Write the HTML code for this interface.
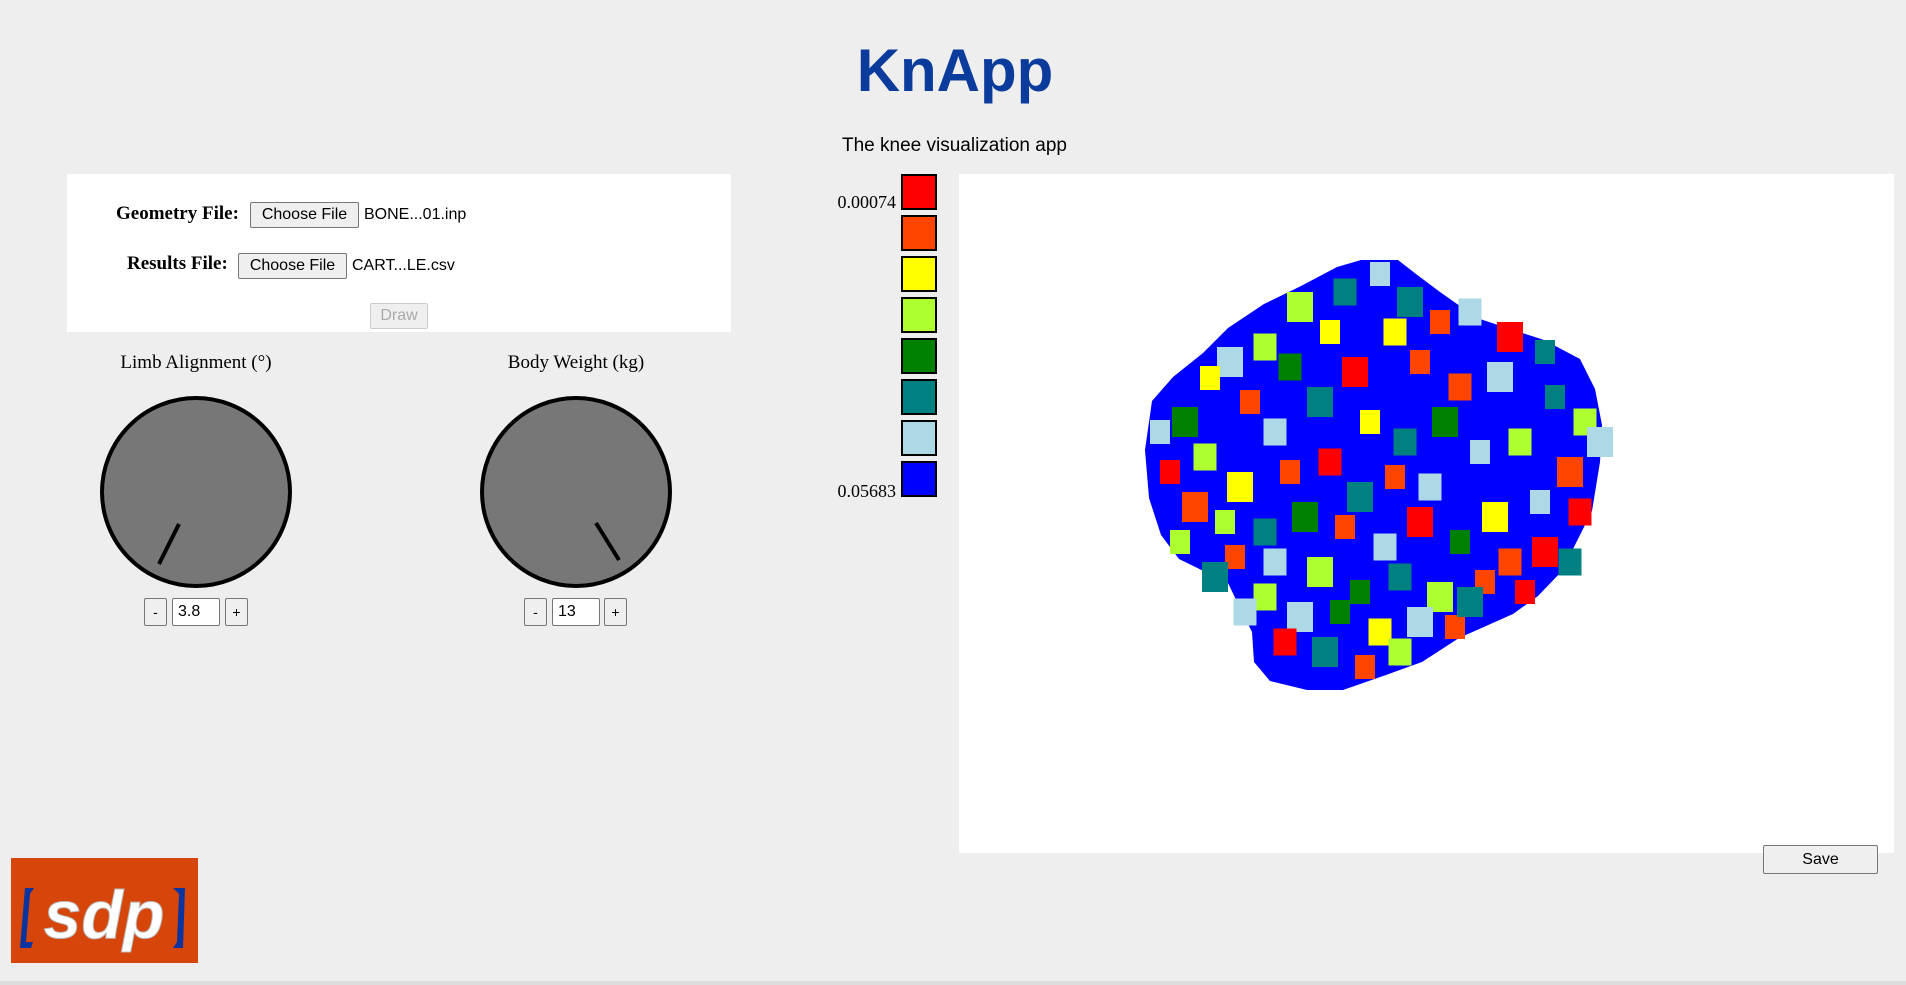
<!DOCTYPE html>
<html><head><meta charset="utf-8"><style>
*{box-sizing:border-box;margin:0;padding:0}
body{width:1906px;height:985px;background:#eeeeee;position:relative;overflow:hidden;font-family:"Liberation Sans",sans-serif}
.abs{position:absolute}
.btn{position:absolute;background:#efefef;border:1px solid #767676;border-radius:2px;font-family:"Liberation Sans",sans-serif;font-size:16px;color:#000;display:flex;align-items:center;justify-content:center}
.lbl{position:absolute;font-family:"Liberation Serif",serif;font-weight:bold;font-size:19px;color:#000}
.ftxt{position:absolute;font-size:16px;color:#000}
.inp{position:absolute;background:#fff;border:1px solid #767676;border-radius:2px;font-size:16px;padding-left:5px;display:flex;align-items:center}
.sq{position:absolute;left:901px;width:36px;height:36px;border:2px solid #000}
</style></head><body>
<div class="abs" style="left:0;width:1910px;top:36px;text-align:center;font-size:60px;font-weight:bold;color:#0b3c9c;line-height:70px">KnApp</div>
<div class="abs" style="left:842px;top:135px;font-size:19px;color:#000">The knee visualization app</div>

<div class="abs" style="left:67px;top:174px;width:664px;height:158px;background:#fff"></div>
<div class="lbl" style="left:116px;top:203px">Geometry File:</div>
<div class="btn" style="left:250px;top:202px;width:109px;height:26px">Choose File</div>
<div class="ftxt" style="left:364px;top:206px">BONE...01.inp</div>
<div class="lbl" style="left:127px;top:253px">Results File:</div>
<div class="btn" style="left:238px;top:253px;width:109px;height:26px">Choose File</div>
<div class="ftxt" style="left:352px;top:257px">CART...LE.csv</div>
<div class="btn" style="left:370px;top:303px;width:58px;height:26px;color:#aaa;border-color:#ccc">Draw</div>

<div class="abs" style="left:96px;width:200px;top:352px;text-align:center;font-family:'Liberation Serif',serif;font-size:19px">Limb Alignment (°)</div>
<div class="abs" style="left:476px;width:200px;top:352px;text-align:center;font-family:'Liberation Serif',serif;font-size:19px">Body Weight (kg)</div>

<svg class="abs" style="left:0;top:0" width="800" height="700">
<g><circle cx="196" cy="492" r="94" fill="#777" stroke="#000" stroke-width="4"/><line x1="179" y1="524" x2="159" y2="564" stroke="#000" stroke-width="4"/></g>
<g><circle cx="576" cy="492" r="94" fill="#777" stroke="#000" stroke-width="4"/><line x1="596" y1="523" x2="619" y2="560" stroke="#000" stroke-width="4"/></g>
</svg>
<div class="btn" style="left:144px;top:598px;width:23px;height:28px;font-size:14px">-</div>
<div class="inp" style="left:172px;top:598px;width:48px;height:28px">3.8</div>
<div class="btn" style="left:225px;top:598px;width:23px;height:28px;font-size:14px">+</div>
<div class="btn" style="left:524px;top:598px;width:23px;height:28px;font-size:14px">-</div>
<div class="inp" style="left:552px;top:598px;width:48px;height:28px">13</div>
<div class="btn" style="left:604px;top:598px;width:23px;height:28px;font-size:14px">+</div>

<svg class="abs" style="left:11px;top:858px" width="187" height="105">
<rect width="187" height="105" fill="#d64509"/>
<path d="M14 30 L23 30 L19 36 L15 84 L22 84 L20 90 L9 90 Z" fill="#0a35a0"/>
<path d="M162 30 L174 30 L172 90 L162 90 L166 84 L168 36 Z" fill="#0a35a0"/>
<text x="93" y="80" text-anchor="middle" font-family="Liberation Sans" font-weight="bold" font-style="italic" font-size="68" fill="#fff" stroke="#bbb" stroke-width="1">sdp</text>
</svg>

<div class="sq" style="top:174px;background:#ff0000"></div>
<div class="sq" style="top:215px;background:#ff4500"></div>
<div class="sq" style="top:256px;background:#ffff00"></div>
<div class="sq" style="top:297px;background:#adff2f"></div>
<div class="sq" style="top:338px;background:#008000"></div>
<div class="sq" style="top:379px;background:#008080"></div>
<div class="sq" style="top:420px;background:#add8e6"></div>
<div class="sq" style="top:461px;background:#0000ff"></div>
<div class="abs" style="left:820px;width:76px;text-align:right;top:192px;font-family:'Liberation Serif',serif;font-size:18px">0.00074</div>
<div class="abs" style="left:820px;width:76px;text-align:right;top:481px;font-family:'Liberation Serif',serif;font-size:18px">0.05683</div>

<div class="abs" style="left:959px;top:174px;width:935px;height:679px;background:#fff">
<svg id="knee" width="935" height="679"></svg>
</div>
<div class="btn" style="left:1763px;top:845px;width:115px;height:29px">Save</div>
<div class="abs" style="left:0;top:981px;width:1906px;height:4px;background:#dcdcdc"></div>

<script>
const outline = [[1361,260],[1398,260],[1416,274],[1440,292],[1477,318],[1507,328],[1544,340],[1580,359],[1595,389],[1602,425],[1600,462],[1592,511],[1580,535],[1562,571],[1538,596],[1513,614],[1459,638],[1422,662],[1386,675],[1343,690],[1307,690],[1270,681],[1254,662],[1252,632],[1240,608],[1228,583],[1179,559],[1161,535],[1149,498],[1145,450],[1152,401],[1173,377],[1203,353],[1228,328],[1264,304],[1301,286],[1337,267]];
const palette = ['#ff0000','#ff4500','#ffff00','#adff2f','#008000','#008080','#add8e6'];
const cells = [[1380,272,6],[1345,290,5],[1410,300,5],[1440,320,1],[1395,330,2],[1300,305,3],[1330,330,2],[1470,310,6],[1510,335,0],[1545,350,5],[1265,345,3],[1230,360,6],[1210,376,2],[1290,365,4],[1355,370,0],[1420,360,1],[1460,385,1],[1500,375,6],[1555,395,5],[1585,420,3],[1185,420,4],[1250,400,1],[1275,430,6],[1320,400,5],[1370,420,2],[1405,440,5],[1445,420,4],[1480,450,6],[1520,440,3],[1570,470,1],[1170,470,0],[1205,455,3],[1240,485,2],[1290,470,1],[1330,460,0],[1360,495,5],[1395,475,1],[1430,485,6],[1495,515,2],[1540,500,6],[1580,510,0],[1195,505,1],[1225,520,3],[1265,530,5],[1305,515,4],[1345,525,1],[1385,545,6],[1420,520,0],[1460,540,4],[1510,560,1],[1545,550,0],[1235,555,1],[1275,560,6],[1320,570,3],[1360,590,4],[1400,575,5],[1440,595,3],[1485,580,1],[1265,595,3],[1300,615,6],[1340,610,4],[1380,630,2],[1420,620,6],[1455,625,1],[1285,640,0],[1325,650,5],[1365,665,1],[1400,650,3],[1470,600,5],[1525,590,0],[1245,610,6],[1215,575,5],[1160,430,6],[1570,560,5],[1600,440,6],[1180,540,3]];
const xS = v => v - 959, yS = v => v - 174;
const NS = 'http://www.w3.org/2000/svg';
const svg = document.getElementById('knee');
const poly = document.createElementNS(NS,'polygon');
poly.setAttribute('points', outline.map(p => xS(p[0])+','+yS(p[1])).join(' '));
poly.setAttribute('fill','#0000ff');


svg.appendChild(poly);
cells.forEach((c,i) => {
  const r = document.createElementNS(NS,'rect');
  const s = 20 + (i % 3) * 3;
  r.setAttribute('x', xS(c[0]) - s/2);
  r.setAttribute('y', yS(c[1]) - s/2);
  r.setAttribute('width', s);
  r.setAttribute('height', s + 4);
  r.setAttribute('fill', palette[c[2]]);
  
  
  svg.appendChild(r);
});
</script>
</body></html>
